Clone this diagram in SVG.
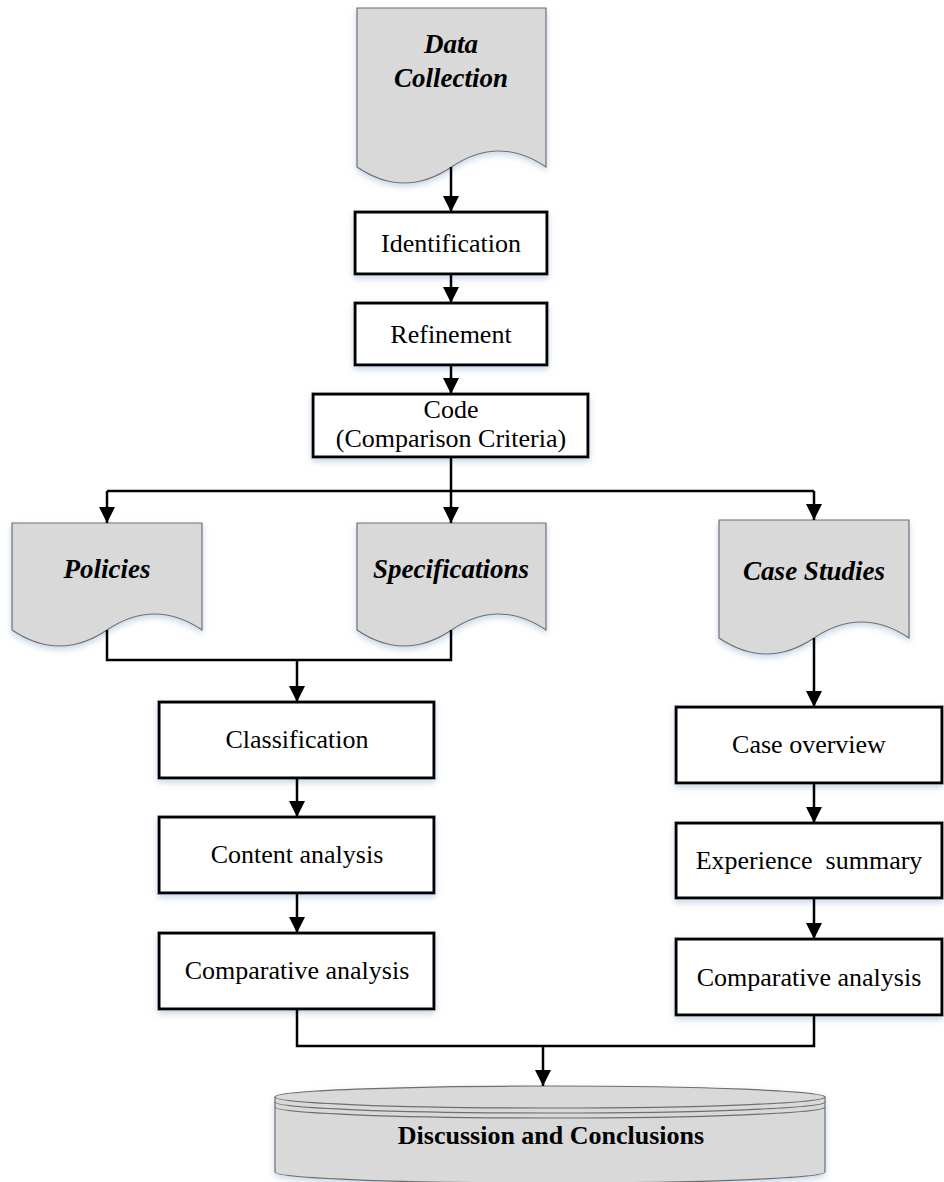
<svg xmlns="http://www.w3.org/2000/svg" width="944" height="1182" viewBox="0 0 944 1182">
<defs>
<filter id="sh" x="-10%" y="-10%" width="120%" height="130%">
<feDropShadow dx="0" dy="3" stdDeviation="3" flood-color="#b8cce4" flood-opacity="0.8"/>
</filter>
<marker id="ah" markerWidth="18" markerHeight="16" refX="16" refY="8" orient="auto" markerUnits="userSpaceOnUse">
<path d="M0,0 L16,8 L0,16 Z" fill="#000"/>
</marker>
<style>
.doc{fill:#d9d9d9;stroke:#6e6e6e;stroke-width:1.2;filter:url(#sh)}
.box{fill:#fff;stroke:#000;stroke-width:3;filter:url(#sh)}
.t{font-family:"Liberation Serif","Times New Roman",serif;font-size:26px;fill:#000;text-anchor:middle}
.bi{font-family:"Liberation Serif","Times New Roman",serif;font-size:27px;font-weight:bold;font-style:italic;fill:#000;text-anchor:middle}
.b{font-family:"Liberation Serif","Times New Roman",serif;font-size:26px;font-weight:bold;fill:#000;text-anchor:middle}
.c{fill:none;stroke:#000;stroke-width:2.5}
.ca{fill:none;stroke:#000;stroke-width:2.5;marker-end:url(#ah)}
</style>
</defs>
<rect width="944" height="1182" fill="#fff"/>

<g id="data-collection">
<path class="doc" d="M357,8 H546 V167 Q499,135 451.5,167 T357,167 Z"/>
<text class="bi" x="451" y="53">Data</text>
<text class="bi" x="451" y="87">Collection</text>
</g>

<g id="identification">
<rect class="box" x="355" y="212" width="192" height="62"/>
<text class="t" x="451" y="252">Identification</text>
</g>

<g id="refinement">
<rect class="box" x="355" y="303" width="192" height="62"/>
<text class="t" x="451" y="343">Refinement</text>
</g>

<g id="code">
<rect class="box" x="313" y="394" width="275" height="63"/>
<text class="t" x="451" y="418">Code</text>
<text class="t" x="451" y="447">(Comparison Criteria)</text>
</g>

<g id="policies">
<path class="doc" d="M12,523 H202 V630 Q154.5,598 107,630 T12,630 Z"/>
<text class="bi" x="107" y="578">Policies</text>
</g>

<g id="specifications">
<path class="doc" d="M357,523 H546 V630 Q498.75,598 451.5,630 T357,630 Z"/>
<text class="bi" x="451" y="578">Specifications</text>
</g>

<g id="case-studies">
<path class="doc" d="M719,520 H909 V638 Q861.5,606 814,638 T719,638 Z"/>
<text class="bi" x="814" y="580">Case Studies</text>
</g>

<g id="classification">
<rect class="box" x="159" y="702" width="275" height="76"/>
<text class="t" x="297" y="748">Classification</text>
</g>

<g id="content-analysis">
<rect class="box" x="159" y="817" width="275" height="76"/>
<text class="t" x="297" y="863">Content analysis</text>
</g>

<g id="comparative-analysis-left">
<rect class="box" x="159" y="933" width="275" height="76"/>
<text class="t" x="297" y="979">Comparative analysis</text>
</g>

<g id="case-overview">
<rect class="box" x="676" y="707" width="266" height="76"/>
<text class="t" x="809" y="753">Case overview</text>
</g>

<g id="experience-summary">
<rect class="box" x="676" y="823" width="266" height="75"/>
<text class="t" x="809" y="869" xml:space="preserve">Experience  summary</text>
</g>

<g id="comparative-analysis-right">
<rect class="box" x="676" y="939" width="266" height="76"/>
<text class="t" x="809" y="986">Comparative analysis</text>
</g>

<g id="discussion">
<path d="M275,1097 V1172 A275,11 0 0 0 825,1172 V1097 A275,11 0 0 0 275,1097 Z" fill="#d9d9d9" stroke="#6e6e6e" stroke-width="1.2" filter="url(#sh)"/>
<path d="M275,1097 A275,11 0 0 0 825,1097" fill="none" stroke="#6e6e6e" stroke-width="1.2"/>
<path d="M275,1102 A275,11 0 0 0 825,1102" fill="none" stroke="#6e6e6e" stroke-width="1.2"/>
<path d="M275,1107 A275,11 0 0 0 825,1107" fill="none" stroke="#6e6e6e" stroke-width="1.2"/>
<text class="b" x="551" y="1144">Discussion and Conclusions</text>
</g>

<g id="connectors">
<path class="ca" d="M451,167 V212"/>
<path class="ca" d="M451,274 V303"/>
<path class="ca" d="M451,365 V394"/>
<path class="c" d="M451,457 V491"/>
<path class="c" d="M107,491 H814"/>
<path class="ca" d="M107,491 V523"/>
<path class="ca" d="M451,491 V523"/>
<path class="ca" d="M814,491 V520"/>
<path class="c" d="M107,630 V660 H451 V630"/>
<path class="ca" d="M297,660 V702"/>
<path class="ca" d="M297,778 V817"/>
<path class="ca" d="M297,893 V933"/>
<path class="ca" d="M814,638 V707"/>
<path class="ca" d="M814,783 V823"/>
<path class="ca" d="M814,898 V939"/>
<path class="c" d="M297,1009 V1046 H814 V1015"/>
<path class="ca" d="M543,1046 V1086"/>
</g>
</svg>
